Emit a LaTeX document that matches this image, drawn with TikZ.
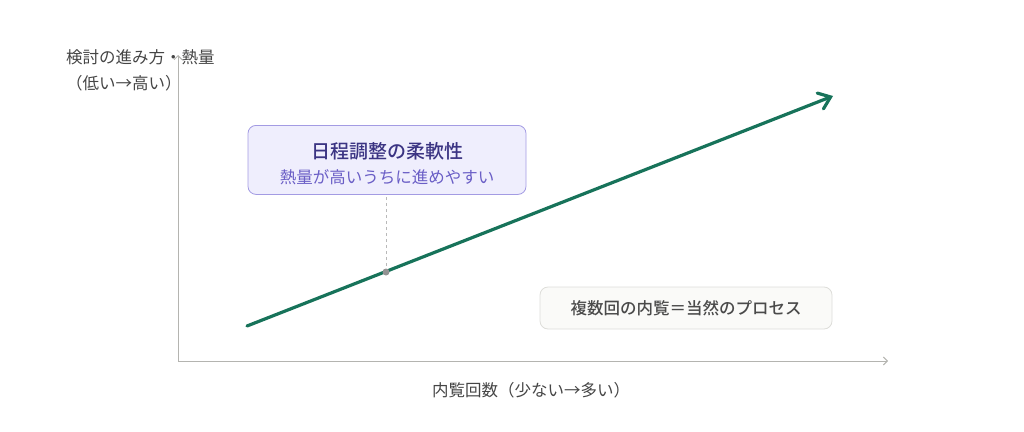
\documentclass[tikz,border=0pt]{standalone}
\usepackage{fontspec}
\setmainfont{Noto Sans CJK JP}[BoldFont={Noto Sans CJK JP Medium}]
\usetikzlibrary{arrows.meta,positioning}
\definecolor{axisgray}{HTML}{B4B4B0}
\definecolor{labelgray}{HTML}{454545}
\definecolor{trendgreen}{HTML}{17735A}
\definecolor{boxfill}{HTML}{EFEEFD}
\definecolor{boxline}{HTML}{A39BE3}
\definecolor{titleink}{HTML}{3B3483}
\definecolor{subink}{HTML}{6A5EC6}
\definecolor{notefill}{HTML}{FAFAF8}
\definecolor{noteline}{HTML}{DDDDD9}
\definecolor{noteink}{HTML}{4A4A4A}
\begin{document}
\begin{tikzpicture}[x=1pt,y=-1pt,font=\fontsize{16.5}{26}\selectfont,
   axis/.style={draw=axisgray,line width=1pt,-{Straight Barb[length=4pt,width=8pt]}},
   trend/.style={draw=trendgreen,line width=3.2pt,line cap=round,
      -{Straight Barb[length=11pt,width=17pt,line cap=round]}},
   callout/.style={rectangle,rounded corners=8pt,draw=boxline,fill=boxfill,line width=0.8pt,
      minimum width=278pt,minimum height=69pt,align=center,inner sep=0pt},
   note/.style={rectangle,rounded corners=8pt,draw=noteline,fill=notefill,line width=0.8pt,
      minimum width=292pt,minimum height=42pt,inner sep=0pt,text=noteink,font=\fontsize{16.5}{20}\selectfont\bfseries},
   lbl/.style={text=labelgray,inner sep=0pt}]
   \useasboundingbox (0,0) rectangle (1024,431);

   % axes
   \coordinate (O)  at (178,361);
   \coordinate (XE) at (888,361);
   \coordinate (YE) at (178,55);
   \draw[axis] (O) -- (XE);
   \draw[axis] (O) -- (YE);

   \node[lbl,align=left,anchor=west] (YL) at (66,70) {検討の進み方・熱量\\（低い→高い）};
   \node[lbl] (XL) at (531,390) {内覧回数（少ない→多い）};

   % trend
   \coordinate (S) at (247,326);
   \coordinate (E) at (833,96);
   \draw[trend] (S) -- (E);

   \node[callout,anchor=north] (FLEX) at (387,125)
      {\rule{0pt}{24pt}{\fontsize{19}{24}\selectfont\bfseries\color{titleink}日程調整の柔軟性}\\[-1pt]
       {\color{subink}熱量が高いうちに進めやすい}};
   \coordinate (D) at (386,272);
   \draw[draw=gray!55,line width=1pt,dashed] (D) -- (D |- FLEX.south);
   \fill[gray!85] (D) circle (3.5pt);

   \node[note] (VIEW) at (686,308) {複数回の内覧＝当然のプロセス};
\end{tikzpicture}
\end{document}
